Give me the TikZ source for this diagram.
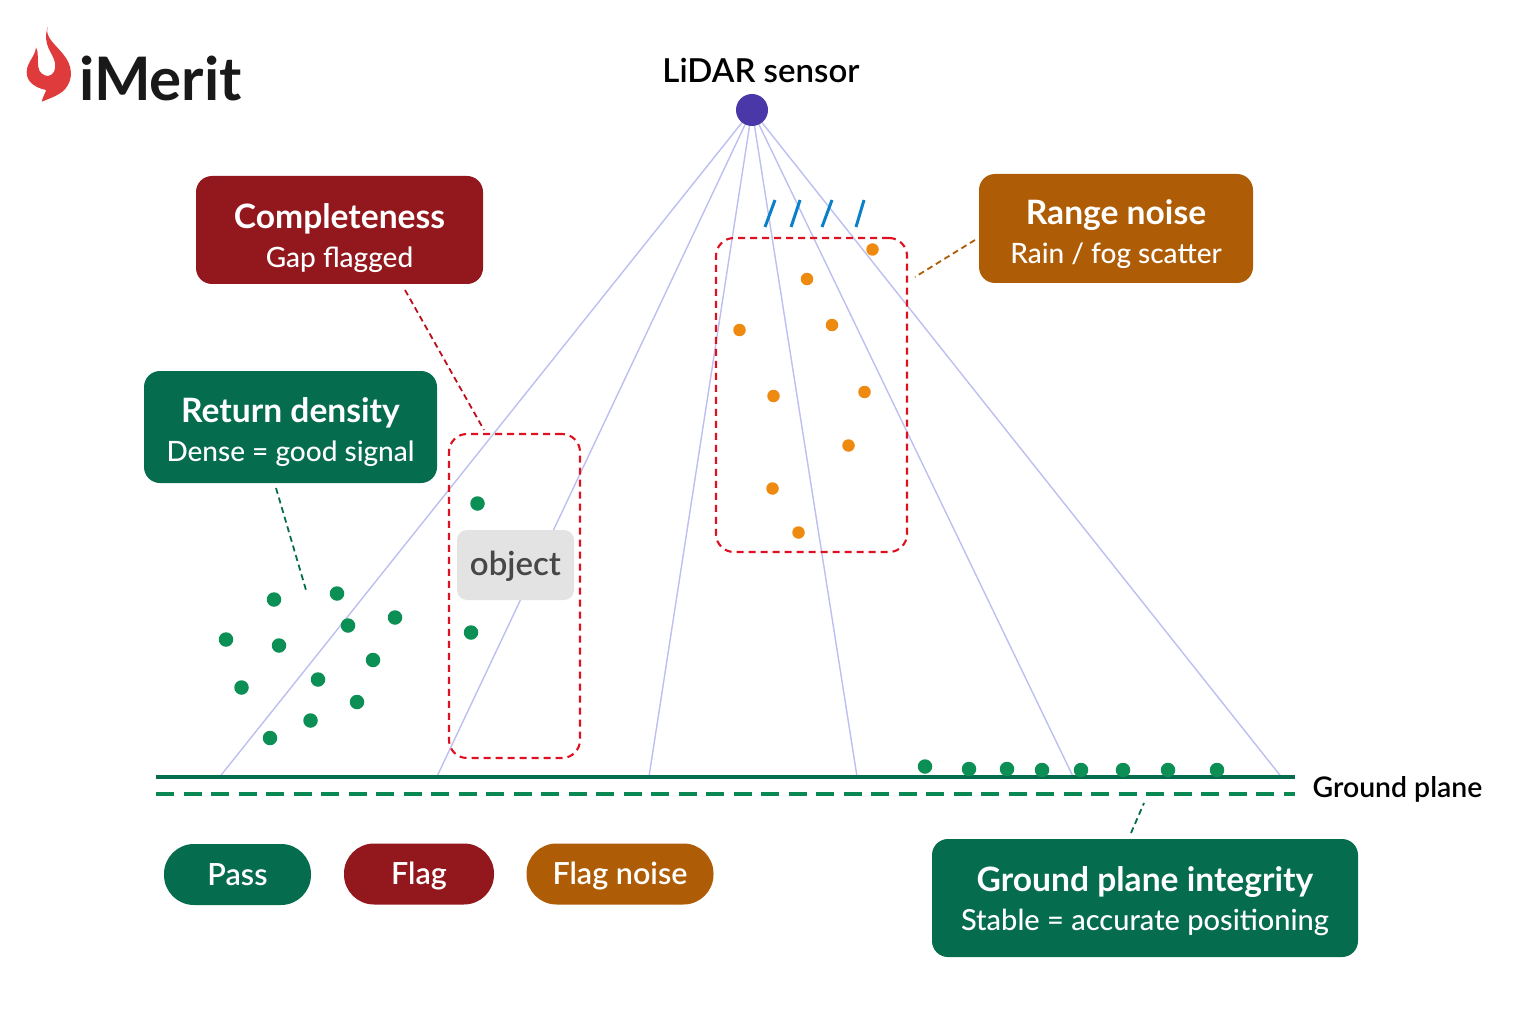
\documentclass[tikz,border=0pt]{standalone}
\usepackage{fontspec}
\setmainfont{Lato}
\newfontfamily\midweight{Lato Medium}
\newfontfamily\semiweight{Lato Semibold}
\newfontfamily\headweight{Lato Bold}
\definecolor{rayblue}{HTML}{BCBFF0}
\definecolor{deepgreen}{HTML}{056C4E}
\definecolor{deepred}{HTML}{92181E}
\definecolor{deeporange}{HTML}{AE5D06}
\definecolor{dotgreen}{HTML}{0B8F55}
\definecolor{dotorange}{HTML}{EE8A10}
\definecolor{flagred}{HTML}{DF1020}
\definecolor{rainblue}{HTML}{0A80C8}
\definecolor{flamered}{HTML}{DF3A3C}
\definecolor{sensorblue}{HTML}{4A38A8}
\newcommand{\headline}[2][38]{\rule{0pt}{#1pt}{\headweight\fontsize{33.6}{38}\selectfont #2}}
\tikzset{
  card/.style={rounded corners=16pt, text=white, align=center, font=\midweight\fontsize{28}{39}\selectfont, inner sep=0pt},
  chip/.style={rounded corners=30pt, text=white, font=\semiweight\fontsize{30.5}{34}\selectfont, inner sep=0pt, minimum height=61pt, text height=21pt, text depth=0pt},
  flagbox/.style={draw=flagred, line width=2.1pt, dash pattern=on 7pt off 5pt, rounded corners=18pt},
  ray/.style={draw=rayblue, line width=1.4pt},
  leader/.style={line width=1.8pt, dash pattern=on 6pt off 4pt},
  gdot/.style={circle, fill=dotgreen, inner sep=0pt, minimum size=14.5pt},
  odot/.style={circle, fill=dotorange, inner sep=0pt, minimum size=12.5pt},
}
\begin{document}
\begin{tikzpicture}[x=1pt,y=-1pt]
        \useasboundingbox (0,0) rectangle (1536,1024);

        % rays and ground
        \node[circle, inner sep=0pt] (sensorhub) at (752,110) {};
        \foreach \n/\x in {a/220,b/437,c/649,d/857,e/1073,f/1281} {
          \coordinate (foot\n) at (\x,776.5);
          \path[ray] (sensorhub) -- (foot\n);
        }
        \coordinate (groundL) at (156,776.5);
        \coordinate (groundR) at (1295,776.5);
        \coordinate (floorL) at (156,794);
        \coordinate (floorR) at (1295,794);
        \draw[deepgreen, line width=4pt] (groundL) -- (groundR);
        \draw[dotgreen!80!deepgreen, line width=3.6pt, dash pattern=on 18pt off 9.5pt] (floorL) -- (floorR);

        \node[circle, fill=sensorblue, minimum size=32pt, inner sep=0pt] (sensor) at (752,110) {};
        \node[font=\semiweight\fontsize{33}{38}\selectfont, text=black] (sensorlabel) at (761,70.5) {LiDAR sensor};
        \node[font=\semiweight\fontsize{28.4}{34}\selectfont, text=black] (groundlabel) at (1397.5,789) {Ground plane};

        % flagged regions
        \node[flagbox, minimum width=131pt, minimum height=324pt] (gapzone) at (514.5,596) {};
        \node[flagbox, minimum width=191pt, minimum height=314pt] (noisezone) at (811.5,395) {};
        \node[fill=black!11, rounded corners=10pt, text=black!72, font=\semiweight\fontsize{33}{38}\selectfont, minimum width=117pt, minimum height=70pt, inner sep=0pt, text height=20pt, text depth=0pt] (object) at (515.5,565) {object};

        % points
        \foreach \x/\y [count=\i] in {274/599.5,337/593.5,395/617.5,348/625.5,226/639.5,279/645.5,373/660,318/679.5,241.5/687.5,357/702,310.5/720.5,270/738,477.5/503.5,471/632.5,925/766.5,969/769,1007/769,1042/770,1081/770,1123/770,1168/770,1217/770} {
          \node[gdot] (green\i) at (\x,\y) {};
        }
        \foreach \x/\y [count=\i] in {872.5/249.5,807/279,739.5/330,832/325,864.5/392,773.5/396,848.5/445.5,772.5/488.5,798.5/532.5} {
          \node[odot] (orange\i) at (\x,\y) {};
        }
        \foreach \xa/\xb/\i in {765/775/1,791/800/2,822/832/3,856/864/4} {
          \coordinate (rainb\i) at (\xa,227);
          \coordinate (raint\i) at (\xb,200);
          \draw[rainblue, line width=3pt] (rainb\i) -- (raint\i);
        }

        % callouts
        \node[card, fill=deepred, minimum width=287pt, minimum height=108pt] (completeness) at (339.5,230) {\headline[42]{Completeness}\\Gap flagged};
        \node[card, fill=deeporange, minimum width=274pt, minimum height=109pt] (rangenoise) at (1116,228.5) {\headline[36]{Range noise}\\Rain / fog scatter};
        \node[card, fill=deepgreen, minimum width=293pt, minimum height=112pt] (density) at (290.5,427) {\headline[36]{Return density}\\Dense = good signal};
        \node[card, fill=deepgreen, minimum width=426pt, minimum height=118pt] (integrity) at (1145,898) {\headline[32]{Ground plane integrity}\\{\fontsize{29}{39}\selectfont Stable = accurate positioning}};

        \coordinate (gapfrom) at (405,290);
        \coordinate (gapto) at (484,430);
        \coordinate (rangefrom) at (975,240);
        \coordinate (rangeto) at (915,277);
        \coordinate (densefrom) at (276,488);
        \coordinate (denseto) at (306,590);
        \coordinate (planefrom) at (1131,833);
        \coordinate (planeto) at (1144,803);
        \draw[leader, flagred!85!black] (gapfrom) -- (gapto);
        \draw[leader, deeporange] (rangefrom) -- (rangeto);
        \draw[leader, deepgreen] (densefrom) -- (denseto);
        \draw[leader, deepgreen] (planefrom) -- (planeto);

        % legend
        \node[chip, fill=deepgreen, minimum width=147pt] (pass) at (237.5,874.5) {Pass};
        \node[chip, fill=deepred, minimum width=150pt] (flag) at (419,874) {Flag};
        \node[chip, fill=deeporange, minimum width=187pt] (flagnoise) at (620,874) {Flag noise};

        % logo
        \fill[flamered] (47.7,26.7) .. controls (44,38) and (58,46) .. (66,58)
          .. controls (74,70) and (72,84) .. (62,92)
          .. controls (55,97) and (48,99) .. (41.7,101.7)
          .. controls (43,96) and (46,92) .. (46,90)
          .. controls (36,88) and (26,82) .. (26.7,71.7)
          .. controls (27,62) and (35,57) .. (36,47.3)
          .. controls (39,52) and (37,60) .. (38.3,67)
          .. controls (39,73) and (44,76) .. (48.3,76)
          .. controls (54,75) and (56,69) .. (55,63)
          .. controls (53,52) and (42,46) .. (47.7,26.7) -- cycle;
        \node[font=\headweight\fontsize{60}{62}\selectfont, text=black!90, anchor=base west, inner sep=0pt] (logotext) at (79,101) {iMerit};
\end{tikzpicture}
\end{document}
